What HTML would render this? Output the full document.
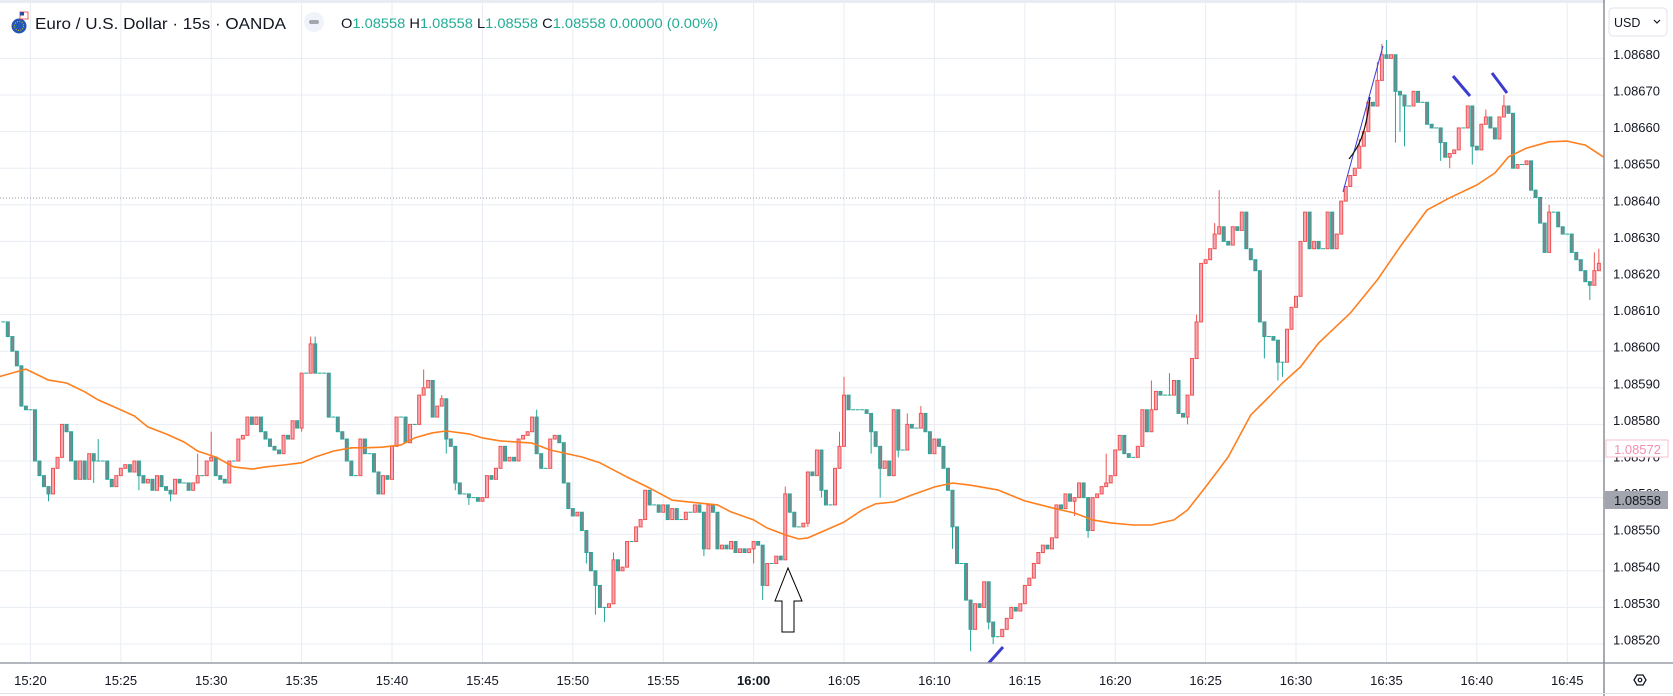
<!DOCTYPE html>
<html><head><meta charset="utf-8"><style>
html,body{margin:0;padding:0;background:#fff;}
svg{display:block;font-family:"Liberation Sans",sans-serif;}
</style></head><body>
<svg id="chart" width="1673" height="696" viewBox="0 0 1673 696" xmlns="http://www.w3.org/2000/svg">
<rect x="0" y="0" width="1673" height="696" fill="#fff"/>
<rect x="0" y="0" width="1673" height="3" fill="#e9ecf2"/>
<g id="grid"></g>
<line x1="0" y1="198" x2="1604" y2="198" stroke="#9598a1" stroke-width="1" stroke-dasharray="1 2"/>
<g id="plot" clip-path="url(#clipPlot)"></g>
<defs><clipPath id="clipPlot"><rect x="0" y="0" width="1604" height="663"/></clipPath></defs>
<g id="drawings" clip-path="url(#clipPlot)">
 <line x1="1343" y1="192" x2="1383" y2="46" stroke="#3a3ad6" stroke-width="1"/>
 <path d="M1349 159 C1358 148 1366 135 1370 97" stroke="#111" stroke-width="1.2" fill="none"/>
 <line x1="1453" y1="76" x2="1470" y2="96" stroke="#3b3bd0" stroke-width="3"/>
 <line x1="1492" y1="73" x2="1507" y2="93" stroke="#3b3bd0" stroke-width="3"/>
 <line x1="987" y1="665" x2="1003" y2="647" stroke="#3b3bd0" stroke-width="3"/>
 <polygon points="788,568 802,601 794,601 794,632 782,632 782,601 775,601" fill="#fff" stroke="#000" stroke-width="1"/>
</g>
<!-- header -->
<g>
 <circle cx="19" cy="26" r="7.5" fill="#2457b5"/>
 <circle cx="19" cy="26" r="4.5" fill="none" stroke="#f5d000" stroke-width="1" stroke-dasharray="0.8 1.6"/>
 <rect x="20" y="12" width="8" height="7" fill="#fff" stroke="#e53935" stroke-width="0.8"/>
 <rect x="20" y="12" width="4" height="3.5" fill="#2b4aa0"/>
 <text x="35" y="29" font-size="16" fill="#131722" textLength="251" lengthAdjust="spacingAndGlyphs">Euro / U.S. Dollar · 15s · OANDA</text>
 <circle cx="314" cy="22" r="10" fill="#f0f3fa"/>
 <rect x="309" y="20" width="10" height="4" rx="2" fill="#a3a6af"/>
 <text x="341" y="28" font-size="14" fill="#22ab94" textLength="377" lengthAdjust="spacingAndGlyphs"><tspan fill="#131722">O</tspan>1.08558 <tspan fill="#131722">H</tspan>1.08558 <tspan fill="#131722">L</tspan>1.08558 <tspan fill="#131722">C</tspan>1.08558 0.00000 (0.00%)</text>
</g>
<!-- axes -->
<rect x="1605" y="0" width="68" height="663" fill="#fff"/>
<g id="yaxis"></g>
<g id="xaxis"></g>
<line x1="0" y1="663" x2="1673" y2="663" stroke="#9a9da6" stroke-width="1.5"/>
<line x1="1604" y1="0" x2="1604" y2="696" stroke="#8a8d96" stroke-width="1.5"/>
<line x1="0" y1="693.5" x2="1673" y2="693.5" stroke="#e0e3eb" stroke-width="1"/>
<g>
 <rect x="1609" y="8" width="58" height="28" rx="4" fill="#fff" stroke="#e0e3eb"/>
 <text x="1614" y="27" font-size="12.5" fill="#131722">USD</text>
 <path d="M1654 20 L1657 23 L1660 20" stroke="#131722" stroke-width="1.2" fill="none"/>
</g>
<g>
 <polygon points="1634,680 1637,675 1643,675 1646,680 1643,685 1637,685" fill="none" stroke="#131722" stroke-width="1.3"/>
 <circle cx="1640" cy="680" r="1.8" fill="none" stroke="#131722" stroke-width="1.2"/>
</g>
<g>
 <rect x="1606" y="440" width="62" height="17" fill="#fff" stroke="#f7c1cf" stroke-width="1"/>
 <text x="1614" y="454" font-size="13" fill="#f48fb1">1.08572</text>
</g>
<g>
 <rect x="1605" y="491" width="63" height="18" fill="#a2a5ad"/>
 <text x="1614" y="505" font-size="13" fill="#131722">1.08558</text>
</g>
</svg>
<script>
const closes = [
1.08608,1.08604,1.08600,1.08596,1.08585,1.08584,1.08584,1.08570,1.08566,1.08563,
1.08561,1.08568,1.08571,1.08580,1.08578,1.08570,1.08565,1.08570,1.08565,1.08572,
1.08570,1.08570,1.08570,1.08565,1.08563,1.08566,1.08568,1.08569,1.08567,1.08570,
1.08566,1.08564,1.08565,1.08562,1.08566,1.08563,1.08562,1.08561,1.08565,1.08564,
1.08564,1.08562,1.08564,1.08566,1.08566,1.08570,1.08571,1.08566,1.08565,1.08564,
1.08570,1.08570,1.08576,1.08577,1.08582,1.08580,1.08582,1.08578,1.08576,1.08574,
1.08573,1.08572,1.08577,1.08576,1.08581,1.08579,1.08594,1.08594,1.08602,1.08594,
1.08594,1.08594,1.08582,1.08582,1.08578,1.08576,1.08570,1.08566,1.08566,1.08576,
1.08572,1.08572,1.08567,1.08561,1.08566,1.08565,1.08574,1.08582,1.08582,1.08575,
1.08580,1.08580,1.08588,1.08590,1.08592,1.08582,1.08585,1.08587,1.08576,1.08574,
1.08564,1.08561,1.08561,1.08560,1.08560,1.08559,1.08560,1.08566,1.08565,1.08568,
1.08574,1.08570,1.08571,1.08570,1.08576,1.08577,1.08578,1.08582,1.08572,1.08568,
1.08568,1.08576,1.08577,1.08575,1.08564,1.08557,1.08555,1.08556,1.08551,1.08545,
1.08540,1.08536,1.08530,1.08530,1.08531,1.08543,1.08540,1.08541,1.08548,1.08548,
1.08552,1.08554,1.08562,1.08558,1.08558,1.08556,1.08558,1.08554,1.08557,1.08554,
1.08554,1.08556,1.08556,1.08558,1.08556,1.08546,1.08558,1.08556,1.08546,1.08547,
1.08546,1.08548,1.08545,1.08546,1.08545,1.08546,1.08548,1.08547,1.08536,1.08542,
1.08542,1.08544,1.08543,1.08561,1.08556,1.08552,1.08552,1.08553,1.08567,1.08566,
1.08573,1.08562,1.08558,1.08558,1.08568,1.08574,1.08588,1.08584,1.08584,1.08584,
1.08584,1.08583,1.08578,1.08574,1.08568,1.08570,1.08566,1.08584,1.08573,1.08573,
1.08580,1.08579,1.08579,1.08583,1.08578,1.08572,1.08576,1.08574,1.08568,1.08562,
1.08552,1.08542,1.08542,1.08532,1.08524,1.08531,1.08530,1.08537,1.08526,1.08522,
1.08522,1.08524,1.08527,1.08530,1.08529,1.08531,1.08536,1.08538,1.08542,1.08545,
1.08547,1.08546,1.08549,1.08558,1.08557,1.08561,1.08559,1.08560,1.08564,1.08560,
1.08551,1.08560,1.08561,1.08563,1.08564,1.08566,1.08573,1.08577,1.08572,1.08571,
1.08571,1.08574,1.08584,1.08578,1.08584,1.08589,1.08588,1.08588,1.08588,1.08592,
1.08583,1.08582,1.08588,1.08598,1.08608,1.08624,1.08625,1.08628,1.08632,1.08634,
1.08630,1.08629,1.08634,1.08633,1.08638,1.08628,1.08625,1.08622,1.08608,1.08604,
1.08604,1.08603,1.08597,1.08597,1.08606,1.08612,1.08615,1.08630,1.08638,1.08628,
1.08630,1.08628,1.08628,1.08638,1.08628,1.08632,1.08641,1.08645,1.08648,1.08650,
1.08656,1.08660,1.08668,1.08667,1.08674,1.08681,1.08680,1.08681,1.08671,1.08670,
1.08667,1.08667,1.08671,1.08668,1.08668,1.08662,1.08661,1.08661,1.08657,1.08653,
1.08654,1.08655,1.08661,1.08661,1.08667,1.08656,1.08655,1.08662,1.08664,1.08661,
1.08658,1.08664,1.08667,1.08665,1.08650,1.08651,1.08651,1.08652,1.08644,1.08642,
1.08635,1.08627,1.08638,1.08638,1.08634,1.08632,1.08632,1.08627,1.08625,1.08622,
1.08619,1.08618,1.08622,1.08624
];
const highIdx = [21,43,46,68,69,93,97,118,135,173,185,186,200,203,244,254,258,264,268,269,300,304,305,306,328,332,342,352,353];
const highVal = [1.08576,1.08572,1.08578,1.08604,1.08604,1.08595,1.08588,1.08584,1.08545,1.08563,1.08578,1.08593,1.08583,1.08585,1.08572,1.08592,1.08594,1.08610,1.08635,1.08644,1.08658,1.08679,1.08684,1.08685,1.08666,1.08670,1.08640,1.08627,1.08628];
const lowIdx = [10,20,30,37,66,98,100,103,129,131,133,155,166,168,178,181,192,194,198,210,214,218,219,237,240,254,262,279,282,283,308,309,310,318,320,325,351];
const lowVal = [1.08559,1.08564,1.08562,1.08559,1.08578,1.08572,1.08562,1.08558,1.08542,1.08528,1.08526,1.08544,1.08542,1.08532,1.08552,1.08560,1.08572,1.08560,1.08571,1.08546,1.08518,1.08524,1.08520,1.08555,1.08549,1.08578,1.08580,1.08598,1.08592,1.08593,1.08657,1.08660,1.08656,1.08652,1.08650,1.08651,1.08614];
const maIdx = [-1,5,10,14,18,21,25,29,32,36,40,43,47,51,55,58,62,66,69,73,77,80,84,88,91,95,98,103,106,110,117,121,128,132,138,143,148,154,158,161,166,169,173,176,178,181,186,190,193,197,201,206,210,214,220,226,232,237,241,245,250,254,259,262,266,271,276,280,283,287,291,298,304,309,315,320,326,330,333,337,342,346,350,354];
const maVal = [1.08593,1.085951,1.085921,1.085913,1.085889,1.085867,1.085845,1.085823,1.085793,1.085774,1.085752,1.085727,1.085711,1.085684,1.085678,1.085684,1.085689,1.085695,1.085711,1.085727,1.085736,1.085736,1.085738,1.085744,1.085763,1.085777,1.085782,1.085774,1.085763,1.085755,1.085749,1.08573,1.085711,1.085695,1.085656,1.085626,1.085593,1.085585,1.08558,1.085561,1.085539,1.085517,1.085498,1.085487,1.08549,1.085506,1.085533,1.085566,1.085583,1.085588,1.085607,1.085629,1.08564,1.085634,1.085621,1.085591,1.085572,1.085558,1.085539,1.085531,1.085525,1.085525,1.085539,1.085566,1.085629,1.085711,1.085826,1.085875,1.085913,1.085957,1.086022,1.086104,1.086195,1.086285,1.086386,1.086419,1.086454,1.086487,1.086531,1.086555,1.086572,1.086574,1.086563,1.086531];
const priceTicks = [1.0852,1.0853,1.0854,1.0855,1.0856,1.0857,1.0858,1.0859,1.0860,1.0861,1.0862,1.0863,1.0864,1.0865,1.0866,1.0867,1.0868];
const timeTicks = ["15:20","15:25","15:30","15:35","15:40","15:45","15:50","15:55","16:00","16:05","16:10","16:15","16:20","16:25","16:30","16:35","16:40","16:45"];
const timeTickIdx = [6,26,46,66,86,106,126,146,166,186,206,226,246,266,286,306,326,346];

const NS = "http://www.w3.org/2000/svg";
function yOf(p){ return 644 - (p - 1.0852) / 0.0001 * 36.6; }
function xOf(i){ return 3.3 + i * 4.52; }
function mk(tag, attrs, parent){ const e=document.createElementNS(NS,tag); for(const k in attrs) e.setAttribute(k,attrs[k]); parent.appendChild(e); return e; }

const grid=document.getElementById('grid'), plot=document.getElementById('plot');
const yaxis=document.getElementById('yaxis'), xaxis=document.getElementById('xaxis');

priceTicks.forEach(p=>{
  const y=yOf(p);
  const g=mk('line',{x1:0,x2:1604,y1:y,y2:y,stroke:'#e8edf3','stroke-width':1},grid);
  
  
  const t=mk('text',{x:1613,y:y+0.5,'font-size':13,fill:'#131722'},yaxis);
  t.textContent=p.toFixed(5);
  
  
});
timeTicks.forEach((lab,k)=>{
  const x=xOf(timeTickIdx[k]);
  const g=mk('line',{x1:x,x2:x,y1:0,y2:663,stroke:'#e8edf3','stroke-width':1},grid);
  
  
  const t=mk('text',{x:x,y:685,'font-size':13,fill:'#131722','text-anchor':'middle','font-weight':lab==='16:00'?'bold':'normal'},xaxis);
  t.textContent=lab;
  
  
});

closes.forEach((c,i)=>{
  const o = i>0 ? closes[i-1] : c;
  let h=Math.max(o,c), l=Math.min(o,c);
  const hi=highIdx.indexOf(i); if(hi>=0) h=Math.max(h,highVal[hi]);
  const li=lowIdx.indexOf(i); if(li>=0) l=Math.min(l,lowVal[li]);
  const up = c>o;
  const edge = up ? '#ef5350' : '#26a69a';
  const fill = up ? '#f7a8b8' : '#80868c';
  const x=xOf(i);
  const g=mk('g',{},plot);
  
  
  if(h>l){ mk('line',{x1:x,x2:x,y1:yOf(h),y2:yOf(l),stroke:edge,'stroke-width':1},g); }
  const yt=yOf(Math.max(o,c)), yb=yOf(Math.min(o,c));
  if(yb-yt<1){
    mk('line',{x1:x-2,x2:x+2,y1:yt,y2:yt,stroke:edge,'stroke-width':1},g);
  } else {
    mk('rect',{x:x-1.5,y:yt,width:3,height:yb-yt,fill:fill,stroke:edge,'stroke-width':1},g);
  }
});

let d='';
maIdx.forEach((ix,k)=>{ d += (k?'L':'M') + xOf(ix).toFixed(1) + ' ' + yOf(maVal[k]).toFixed(1) + ' '; });
const ma=mk('path',{d:d,fill:'none',stroke:'#ff7f1e','stroke-width':1.6,'stroke-linejoin':'round'},plot);


</script>
</body></html>
